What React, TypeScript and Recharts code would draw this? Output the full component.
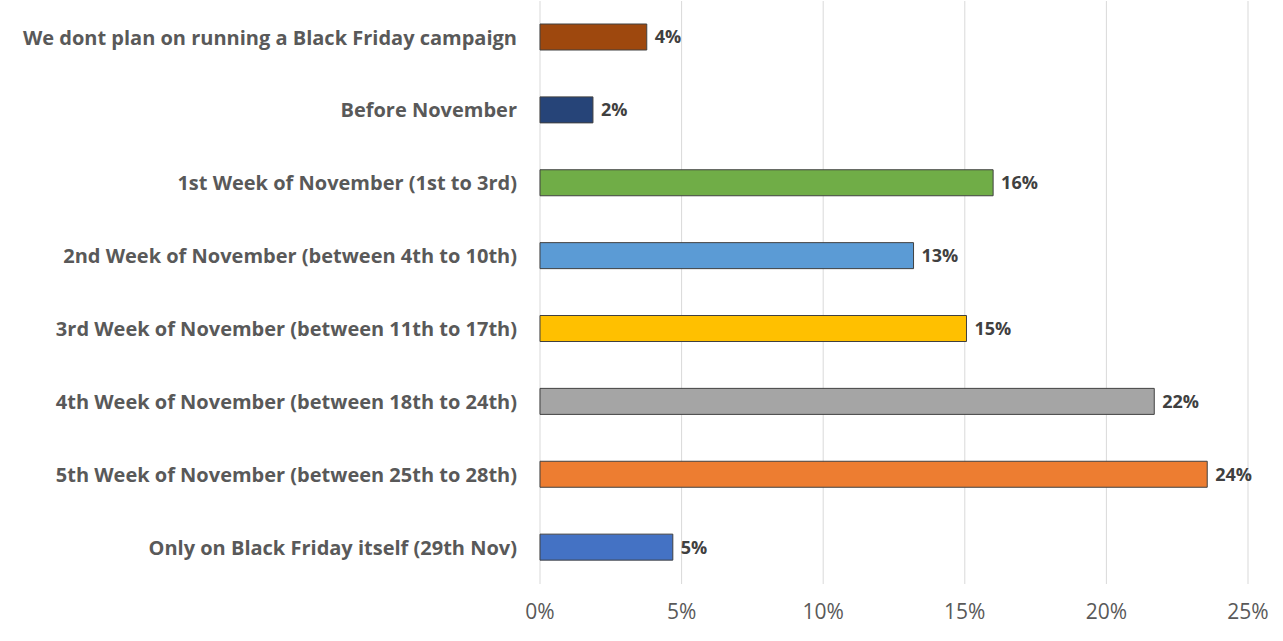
import React from "react";
import { BarChart, Bar, XAxis, YAxis, CartesianGrid, Cell, LabelList } from "recharts";

const categories = [
  "We dont plan on running a Black Friday campaign",
  "Before November",
  "1st Week of November (1st to 3rd)",
  "2nd Week of November (between 4th to 10th)",
  "3rd Week of November (between 11th to 17th)",
  "4th Week of November (between 18th to 24th)",
  "5th Week of November (between 25th to 28th)",
  "Only on Black Friday itself (29th Nov)",
];
const values = [3.77, 1.87, 16.0, 13.19, 15.06, 21.69, 23.56, 4.69];
const colors = ["#9E480E", "#264478", "#70AD47", "#5B9BD5", "#FFC000", "#A5A5A5", "#ED7D31", "#4472C4"];
const xTicks = [0, 5, 10, 15, 20, 25];

const data = categories.map((c, i) => ({ name: c, value: values[i] }));

export default function App() {
  return (
    <div style={{ position: "absolute", left: 0, top: 0, background: "#fff" }}>
      <BarChart
        width={1283}
        height={641}
        data={data}
        layout="vertical"
        margin={{ top: 1, right: 35, bottom: 0, left: 0 }}
        barCategoryGap={0}
      >
        <CartesianGrid horizontal={false} vertical={true} stroke="#D9D9D9" />
        <XAxis
          type="number"
          domain={[0, 25]}
          ticks={xTicks}
          tickFormatter={(v: number) => `${v}%`}
          axisLine={false}
          tickLine={false}
          tickSize={0}
          tickMargin={20}
          height={57}
          tick={{ fill: "#595959", fontSize: 21, fontFamily: "Open Sans" }}
        />
        <YAxis
          type="category"
          dataKey="name"
          width={540}
          axisLine={false}
          tickLine={false}
          tickSize={0}
          tickMargin={23}
          interval={0}
          tick={{ fill: "#595959", fontSize: 20, fontWeight: 700, fontFamily: "Open Sans" }}
        />
        <Bar dataKey="value" barSize={26} stroke="#404040" strokeWidth={1} isAnimationActive={false}>
          {data.map((d, i) => (
            <Cell key={i} fill={colors[i]} />
          ))}
          <LabelList
            dataKey="value"
            position="right"
            offset={8}
            formatter={(v: number) => `${Math.round(v)}%`}
            style={{ fill: "#404040", fontSize: 18, fontWeight: 700, fontFamily: "Open Sans" }}
          />
        </Bar>
      </BarChart>
    </div>
  );
}
